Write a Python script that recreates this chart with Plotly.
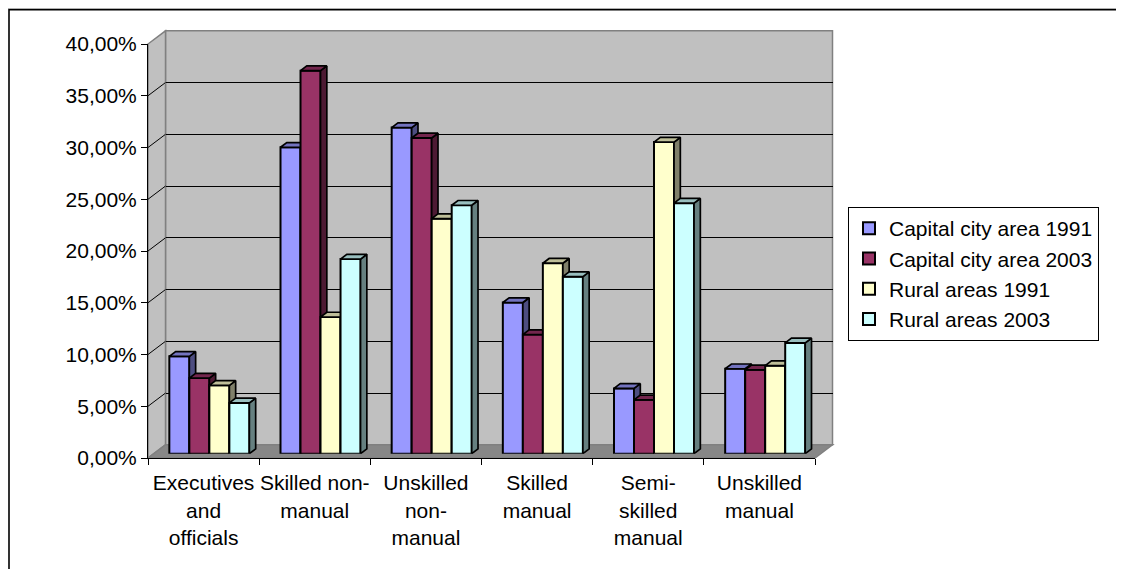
import plotly.graph_objects as go

# ---------------- data ----------------
categories = ["Executives and officials", "Skilled non-manual", "Unskilled non-manual",
              "Skilled manual", "Semi-skilled manual", "Unskilled manual"]
tick_labels = ["Executives<br>and<br>officials", "Skilled non-<br>manual", "Unskilled<br>non-<br>manual",
               "Skilled<br>manual", "Semi-<br>skilled<br>manual", "Unskilled<br>manual"]
series_names = ["Capital city area 1991", "Capital city area 2003", "Rural areas 1991", "Rural areas 2003"]
capital_1991 = [0.094, 0.296, 0.315, 0.146, 0.063, 0.082]
capital_2003 = [0.073, 0.370, 0.305, 0.115, 0.052, 0.081]
rural_1991 = [0.066, 0.132, 0.227, 0.184, 0.301, 0.085]
rural_2003 = [0.049, 0.188, 0.240, 0.171, 0.242, 0.107]
y_ticks = [0.0, 0.05, 0.10, 0.15, 0.20, 0.25, 0.30, 0.35, 0.40]

series_values = [capital_1991, capital_2003, rural_1991, rural_2003]
front_colors = ["#9999FF", "#993366", "#FFFFCC", "#CCFFFF"]
top_colors = ["#7373BF", "#73264D", "#BFBF99", "#99BFBF"]
side_colors = ["#4D4D80", "#4D1A33", "#80806A", "#668080"]

# ---------------- geometry (screen pixels) ----------------
W, H = 1124, 569
OX, OY = 8, 8                # page offset of the figure (body margin)
FX0, FX1 = 148, 815          # front plane left / right
FY0, FY1 = 458, 44           # front plane y of 0 and of YMAX
YMAX = y_ticks[-1]
DX, DY = 17.5, -13.2         # full depth vector
BAR_Z0, BAR_DZ = 0.33, 0.36  # bar front depth fraction, bar depth fraction
BAR_W = 0.18
FONT = "Liberation Sans, Arial, sans-serif"

n = len(categories)
x_unit_px = (FX1 - FX0) / n
y_unit_px = (FY0 - FY1) / YMAX
ddx = DX * BAR_DZ / x_unit_px
ddy = -DY * BAR_DZ / y_unit_px


def px(x):
    return (x - OX) / W


def py(y):
    return 1 - (y - OY) / H


def dom(z):
    return ([px(FX0 + DX * z), px(FX1 + DX * z)],
            [py(FY0 + DY * z), py(FY1 + DY * z)])


fig = go.Figure()

# placeholder traces so the subplot order is back wall, front axes, then series
fig.add_trace(go.Scatter(x=[0], y=[0], mode="markers", marker=dict(opacity=0, size=1),
                         xaxis="x", yaxis="y", showlegend=False, hoverinfo="skip"))
fig.add_trace(go.Scatter(x=[0], y=[0], mode="markers", marker=dict(opacity=0, size=1),
                         xaxis="x2", yaxis="y2", showlegend=False, hoverinfo="skip"))

xpos = list(range(n))
for j, (name, vals) in enumerate(zip(series_names, series_values)):
    ax = str(j + 3)
    off = -2 * BAR_W + j * BAR_W
    fig.add_trace(go.Bar(
        x=xpos, y=vals, width=BAR_W, offset=off, name=name,
        marker=dict(color=front_colors[j], line=dict(color="black", width=2)),
        xaxis="x" + ax, yaxis="y" + ax,
        hovertemplate="%{y:.2%}<extra>" + name + "</extra>"))
    sx, sy, tx, ty = [], [], [], []
    for i, v in enumerate(vals):
        L = i + off
        R = L + BAR_W
        sx += [R, R + ddx, R + ddx, R, R, None]
        sy += [0, ddy, v + ddy, v, 0, None]
        tx += [L, L + ddx, R + ddx, R, L, None]
        ty += [v, v + ddy, v + ddy, v, v, None]
    for xs, ys, col in ((sx, sy, side_colors[j]), (tx, ty, top_colors[j])):
        fig.add_trace(go.Scatter(x=xs, y=ys, mode="lines", fill="toself", fillcolor=col,
                                 line=dict(color="black", width=1.7),
                                 xaxis="x" + ax, yaxis="y" + ax,
                                 showlegend=False, hoverinfo="skip"))

# ---------------- axes ----------------
xr = [-0.5, n - 0.5]
yr = [0, YMAX]
bx, by = dom(1)
fx, fy = dom(0)
layout_axes = {}
layout_axes["xaxis"] = dict(domain=bx, range=xr, anchor="y", showgrid=False, zeroline=False,
                            showticklabels=False, ticks="", showline=False, fixedrange=True,
                            automargin=False)
layout_axes["yaxis"] = dict(domain=by, range=yr, anchor="x", tickvals=y_ticks[1:-1], showgrid=True,
                            gridcolor="black", gridwidth=1, zeroline=False, showticklabels=False,
                            ticks="", showline=False, fixedrange=True, automargin=False)
layout_axes["xaxis2"] = dict(domain=fx, range=xr, anchor="y2", tickvals=xpos, ticktext=tick_labels,
                             ticks="outside", ticklen=6, tickcolor="rgba(0,0,0,0)",
                             minor=dict(tickvals=[i - 0.5 for i in range(n + 1)], ticks="outside",
                                        ticklen=6, tickwidth=1, tickcolor="black", showgrid=False),
                             showline=True, linecolor="black", linewidth=1, showgrid=False,
                             zeroline=False, tickfont=dict(family=FONT, size=21, color="black"),
                             fixedrange=True, automargin=False)
layout_axes["yaxis2"] = dict(domain=fy, range=yr, anchor="x2", tickvals=y_ticks, tickformat=".2%",
                             ticks="outside", ticklen=6, tickcolor="black", showline=True,
                             linecolor="black", linewidth=1, showgrid=False, zeroline=False,
                             tickfont=dict(family=FONT, size=21, color="black"), fixedrange=True,
                             automargin=False)
sx_dom, sy_dom = dom(BAR_Z0)
for j in range(len(series_names)):
    ax = str(j + 3)
    layout_axes["xaxis" + ax] = dict(domain=sx_dom, range=xr, anchor="y" + ax, visible=False,
                                     fixedrange=True, automargin=False)
    layout_axes["yaxis" + ax] = dict(domain=sy_dom, range=yr, anchor="x" + ax, visible=False,
                                     fixedrange=True, automargin=False)

# ---------------- walls, floor, border ----------------
shapes = []


def ppath(pts):
    return "M" + " L".join("%.6f,%.6f" % (px(a), py(b)) for a, b in pts) + " Z"


shapes.append(dict(type="rect", xref="paper", yref="paper", layer="below",
                   x0=px(FX0 + DX), x1=px(FX1 + DX), y0=py(FY0 + DY), y1=py(FY1 + DY),
                   fillcolor="#C0C0C0", line=dict(color="#808080", width=1.5)))
shapes.append(dict(type="path", xref="paper", yref="paper", layer="below",
                   path=ppath([(FX0, FY0), (FX0, FY1), (FX0 + DX, FY1 + DY), (FX0 + DX, FY0 + DY)]),
                   fillcolor="#C0C0C0", line=dict(color="#808080", width=1.5)))
shapes.append(dict(type="path", xref="paper", yref="paper", layer="below",
                   path=ppath([(FX0, FY0), (FX1, FY0), (FX1 + DX, FY0 + DY), (FX0 + DX, FY0 + DY)]),
                   fillcolor="#878787", line=dict(color="#808080", width=1.5)))
for v in y_ticks[1:-1]:
    yf = FY0 - v * y_unit_px
    shapes.append(dict(type="line", xref="paper", yref="paper", layer="below",
                       x0=px(FX0), y0=py(yf), x1=px(FX0 + DX), y1=py(yf + DY),
                       line=dict(color="black", width=1)))
# chart area border
shapes.append(dict(type="line", xref="paper", yref="paper", layer="below",
                   x0=px(8), y0=py(8.5), x1=px(1200), y1=py(8.5),
                   line=dict(color="#B0B0B0", width=1)))
shapes.append(dict(type="rect", xref="paper", yref="paper", layer="below",
                   x0=px(9), y0=py(9.7), x1=px(1200), y1=py(700),
                   line=dict(color="black", width=1.6)))

fig.update_layout(
    width=W, height=H, autosize=False,
    margin=dict(l=0, r=0, t=0, b=0, autoexpand=False),
    paper_bgcolor="white", plot_bgcolor="rgba(0,0,0,0)",
    separators=",.",
    barmode="overlay",
    font=dict(family=FONT, size=21, color="black"),
    showlegend=True,
    legend=dict(x=px(848), y=py(207), xanchor="left", yanchor="top",
                bgcolor="white", bordercolor="black", borderwidth=1,
                font=dict(family=FONT, size=21, color="black"), traceorder="normal"),
    shapes=shapes,
    **layout_axes,
)

fig.write_html("out.html", config={"displayModeBar": False})
